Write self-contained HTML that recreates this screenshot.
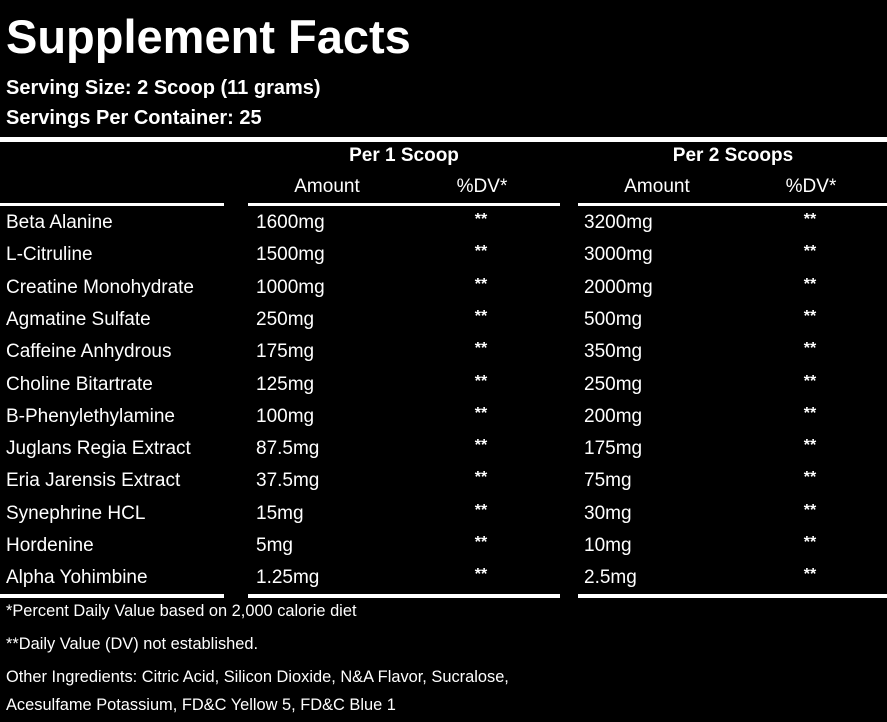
<!DOCTYPE html><html><head><style>
body{margin:0;width:887px;height:722px;background:#000;color:#fff;font-family:"Liberation Sans",Arial,sans-serif;position:relative;overflow:hidden}
div{position:absolute;white-space:nowrap}
.l{background:#fff;height:4px}
.r{font-size:19px;line-height:20px}
.c{transform:translateX(-50%)}
.f{font-size:16.4px;left:6px}
</style></head><body>
<div style="left:6px;top:11px;font-size:47px;font-weight:bold;line-height:52px">Supplement Facts</div>
<div style="left:6px;top:77px;font-size:20px;font-weight:bold">Serving Size: 2 Scoop (11 grams)</div>
<div style="left:6px;top:107px;font-size:20px;font-weight:bold">Servings Per Container: 25</div>
<div class="l" style="left:0;width:887px;top:137px;height:5px"></div>
<div class="c" style="left:404px;top:145px;font-size:19px;font-weight:bold">Per 1 Scoop</div>
<div class="c" style="left:733px;top:145px;font-size:19px;font-weight:bold">Per 2 Scoops</div>
<div class="c r" style="left:327px;top:177px">Amount</div>
<div class="c r" style="left:482px;top:177px">%DV*</div>
<div class="c r" style="left:657px;top:177px">Amount</div>
<div class="c r" style="left:811px;top:177px">%DV*</div>
<div class="l" style="left:0;width:224px;top:203px;height:3px"></div>
<div class="l" style="left:248px;width:312px;top:203px;height:3px"></div>
<div class="l" style="left:578px;width:309px;top:203px;height:3px"></div>
<div class="l" style="left:0;width:224px;top:594px"></div>
<div class="l" style="left:248px;width:312px;top:594px"></div>
<div class="l" style="left:578px;width:309px;top:594px"></div>
<div class="f" style="top:602px">*Percent Daily Value based on 2,000 calorie diet</div>
<div class="f" style="top:635px">**Daily Value (DV) not established.</div>
<div class="f" style="top:668px">Other Ingredients: Citric Acid, Silicon Dioxide, N&amp;A Flavor, Sucralose,</div>
<div class="f" style="top:696px">Acesulfame Potassium, FD&amp;C Yellow 5, FD&amp;C Blue 1</div>
<script>
var d=[["Beta Alanine","1600mg","3200mg"],["L-Citruline","1500mg","3000mg"],["Creatine Monohydrate","1000mg","2000mg"],["Agmatine Sulfate","250mg","500mg"],["Caffeine Anhydrous","175mg","350mg"],["Choline Bitartrate","125mg","250mg"],["B-Phenylethylamine","100mg","200mg"],["Juglans Regia Extract","87.5mg","175mg"],["Eria Jarensis Extract","37.5mg","75mg"],["Synephrine HCL","15mg","30mg"],["Hordenine","5mg","10mg"],["Alpha Yohimbine","1.25mg","2.5mg"]];
var h="";d.forEach(function(r,i){var t=213+i*32.3;
h+='<div class="r" style="left:6px;top:'+t+'px">'+r[0]+'</div><div class="r" style="left:256px;top:'+t+'px">'+r[1]+'</div><div class="r" style="left:584px;top:'+t+'px">'+r[2]+'</div><div class="c" style="font-size:16px;font-weight:bold;left:481px;top:'+(t-2)+'px">**</div><div class="c" style="font-size:16px;font-weight:bold;left:810px;top:'+(t-2)+'px">**</div>';});
document.body.insertAdjacentHTML("beforeend",h);
</script>
</body></html>
